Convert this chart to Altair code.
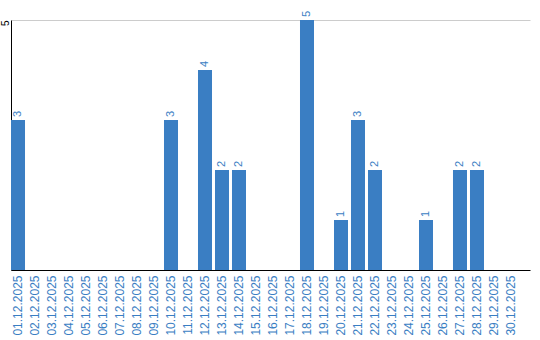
import altair as alt
import pandas as pd

dates = ["01.12.2025", "02.12.2025", "03.12.2025", "04.12.2025", "05.12.2025",
         "06.12.2025", "07.12.2025", "08.12.2025", "09.12.2025", "10.12.2025",
         "11.12.2025", "12.12.2025", "13.12.2025", "14.12.2025", "15.12.2025",
         "16.12.2025", "17.12.2025", "18.12.2025", "19.12.2025", "20.12.2025",
         "21.12.2025", "22.12.2025", "23.12.2025", "24.12.2025", "25.12.2025",
         "26.12.2025", "27.12.2025", "28.12.2025", "29.12.2025", "30.12.2025"]
values = [3, 0, 0, 0, 0, 0, 0, 0, 0, 3,
          0, 4, 2, 2, 0, 0, 0, 5, 0, 1,
          3, 2, 0, 0, 1, 0, 2, 2, 0, 0]

df = pd.DataFrame({"date": dates, "value": values})

BLUE = "#3a7ec3"
FONT = "Liberation Sans"

x = alt.X("date:N", sort=dates, title=None,
          scale=alt.Scale(paddingInner=0.176, paddingOuter=0.353, align=0),
          axis=alt.Axis(labelAngle=-90, labelAlign="right", labelBaseline="middle",
                        labelColor=BLUE, labelFontSize=12, labelFont=FONT,
                        labelPadding=5, ticks=False, domainColor="black",
                        domainWidth=1, grid=False, labelOverlap=False))
y = alt.Y("value:Q", title=None,
          scale=alt.Scale(domain=[0, 5], nice=False),
          axis=alt.Axis(values=[5], labelAngle=-90, labelAlign="right",
                        labelBaseline="middle", labelFontSize=10, labelFont=FONT,
                        labelColor="black", labelPadding=6, ticks=False,
                        domainColor="black", domainWidth=1,
                        grid=True, gridColor="#cccccc", gridWidth=1))

bars = alt.Chart(df).mark_bar(color=BLUE).encode(x=x, y=y)
texts = alt.Chart(df).transform_filter("datum.value > 0").mark_text(
    angle=270, align="left", baseline="middle", dx=3, color=BLUE,
    fontSize=11, font=FONT
).encode(x=alt.X("date:N", sort=dates), y=alt.Y("value:Q"), text="value:Q")

chart = (bars + texts).properties(
    width=519, height=250,
    autosize=alt.AutoSizeParams(type="none"),
    padding={"left": 11, "top": 20, "right": 10, "bottom": 70},
).configure_view(stroke=None)

chart.save("out.html", embed_options={"renderer": "svg", "actions": False})
